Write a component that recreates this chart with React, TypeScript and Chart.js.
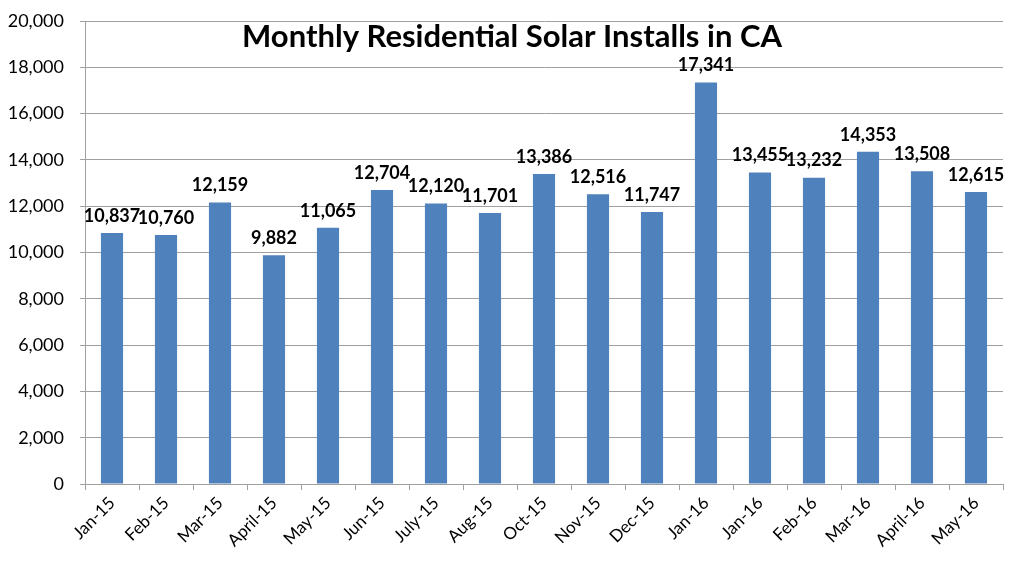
import React, { useEffect, useRef } from "react";
import { Chart, registerables } from "chart.js";

Chart.register(...registerables);

const categories = [
  "Jan-15", "Feb-15", "Mar-15", "April-15", "May-15", "Jun-15", "July-15", "Aug-15",
  "Oct-15", "Nov-15", "Dec-15", "Jan-16", "Jan-16", "Feb-16", "Mar-16", "April-16", "May-16",
];
const installs = [
  10837, 10760, 12159, 9882, 11065, 12704, 12120, 11701,
  13386, 12516, 11747, 17341, 13455, 13232, 14353, 13508, 12615,
];
const titleText = "Monthly Residential Solar Installs in CA";
const yMin = 0;
const yMax = 20000;
const yStep = 2000;

const FONT = "Lato, 'Noto Sans', sans-serif";

const fmt = (v: number) => v.toLocaleString("en-US");

const overlayPlugin = {
  id: "overlay",
  afterDatasetsDraw(chart: any) {
    const ctx = chart.ctx;
    const meta = chart.getDatasetMeta(0);
    ctx.save();
    ctx.fillStyle = "#000";
    ctx.font = `bold 18px ${FONT}`;
    ctx.textAlign = "center";
    ctx.textBaseline = "bottom";
    meta.data.forEach((el: any, i: number) => {
      ctx.fillText(fmt(installs[i]), el.x, el.y - 8);
    });
    const area = chart.chartArea;
    ctx.font = `bold 31px ${FONT}`;
    ctx.textBaseline = "middle";
    ctx.fillText(titleText, 512, area.top + 16);
    ctx.restore();
  },
};

export default function App() {
  const ref = useRef<HTMLCanvasElement | null>(null);
  useEffect(() => {
    document.body.style.margin = "0";
    const chart = new Chart(ref.current!, {
      type: "bar",
      data: {
        labels: categories,
        datasets: [
          {
            data: installs,
            backgroundColor: "#4F81BD",
            categoryPercentage: 1,
            barPercentage: 0.41,
          },
        ],
      },
      options: {
        animation: false,
        responsive: false,
        maintainAspectRatio: false,
        layout: { padding: { top: 21, right: 21, left: 0, bottom: 0 } },
        plugins: {
          legend: { display: false },
          tooltip: { enabled: false },
          title: { display: false },
        },
        scales: {
          x: {
            offset: true,
            afterFit(scale: any) {
              scale.height = 83;
              scale.paddingLeft = 0;
              scale.paddingRight = 0;
            },
            grid: {
              display: true,
              drawOnChartArea: false,
              drawTicks: true,
              tickLength: 6,
              offset: true,
              color: "#a0a0a0",
            },
            border: { display: true, color: "#a0a0a0", width: 1 },
            ticks: {
              color: "#000",
              font: { family: FONT, size: 17 },
              maxRotation: 45,
              minRotation: 45,
              autoSkip: false,
              padding: 3,
            },
          },
          y: {
            min: yMin,
            max: yMax,
            afterFit(scale: any) {
              scale.width = 85;
              scale.paddingTop = 0;
              scale.paddingBottom = 0;
            },
            grid: {
              color: "#a0a0a0",
              tickLength: 5,
              drawTicks: true,
            },
            border: { display: true, color: "#a0a0a0", width: 1 },
            ticks: {
              stepSize: yStep,
              color: "#000",
              font: { family: FONT, size: 18 },
              padding: 16,
              callback: (v: any) => fmt(Number(v)),
            },
          },
        },
      },
      plugins: [overlayPlugin],
    });
    return () => chart.destroy();
  }, []);
  return (
    <div style={{ width: 1024, height: 567, background: "#fff" }}>
      <canvas ref={ref} width={1024} height={567} style={{ display: "block" }} />
    </div>
  );
}
